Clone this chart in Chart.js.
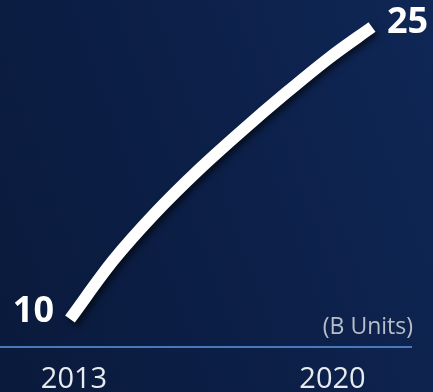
<!DOCTYPE html>
<html>
<head>
<meta charset="utf-8">
<script src="https://cdn.jsdelivr.net/npm/chart.js@4/dist/chart.umd.min.js"></script>
<style>
  html, body { margin: 0; padding: 0; }
  body {
    width: 433px; height: 392px; overflow: hidden;
    background: linear-gradient(250deg, #0f2756 0%, #0c1f47 50%, #0a1a3c 100%);
  }
  #wrap { position: relative; width: 433px; height: 392px; }
</style>
</head>
<body>
<div id="wrap"><canvas id="chart"></canvas></div>
<script>
// values (B units per year)
const years = [2013, 2014, 2015, 2016, 2017, 2018, 2019, 2020];
const units = [10, 13.0, 15.5, 17.7, 19.7, 21.6, 23.4, 25];
const tickYears = [2013, 2020];
const unitLabel = '(B Units)';

const FONT = "'Open Sans', 'Noto Sans', sans-serif";

// draws the soft shadow under the white line
const lineShadow = {
    id: 'lineShadow',
    beforeDatasetDraw(chart) {
        const ctx = chart.ctx;
        ctx.save();
        ctx.shadowColor = 'rgba(0,0,0,0.55)';
        ctx.shadowBlur = 6;
        ctx.shadowOffsetX = 3;
        ctx.shadowOffsetY = 4;
    },
    afterDatasetDraw(chart) {
        chart.ctx.restore();
    }
};

// first / last value next to the line ends, plus the unit note
const endLabels = {
    id: 'endLabels',
    afterDatasetsDraw(chart) {
        const ctx = chart.ctx;
        const pts = chart.getDatasetMeta(0).data;
        const first = pts[0], last = pts[pts.length - 1];
        ctx.save();
        ctx.fillStyle = '#ffffff';
        ctx.font = `bold 36px ${FONT}`;
        ctx.textBaseline = 'middle';
        ctx.textAlign = 'right';
        ctx.fillText(String(units[0]), first.x - 16, first.y - 7);
        ctx.textAlign = 'left';
        ctx.fillText(String(units[units.length - 1]), last.x + 15, last.y - 4);

        ctx.fillStyle = '#b9bfca';
        ctx.font = `23px ${FONT}`;
        ctx.textAlign = 'right';
        ctx.fillText(unitLabel, chart.chartArea.right + 2, 327);
        ctx.restore();
    }
};

new Chart(document.getElementById('chart'), {
    type: 'line',
    data: {
        datasets: [{
            data: years.map((y, i) => ({ x: y, y: units[i] })),
            borderColor: '#ffffff',
            borderWidth: 12,
            borderCapStyle: 'butt',
            pointRadius: 0,
            fill: false,
            cubicInterpolationMode: 'monotone',
            xAxisID: 'x',
            yAxisID: 'y'
        }]
    },
    options: {
        responsive: true,
        maintainAspectRatio: false,
        animation: false,
        layout: { padding: { left: 0, right: 22, top: 0, bottom: 0 } },
        plugins: { legend: { display: false }, tooltip: { enabled: false } },
        scales: {
            x: {
                type: 'linear', display: false,
                min: 2011.378, max: 2020.904
            },
            x2: {
                type: 'linear', position: 'bottom',
                min: 2010.996, max: 2022.125,
                afterBuildTicks: s => { s.ticks = tickYears.map(v => ({ value: v })); },
                afterFit: s => { s.height = 45; },
                grid: { display: false },
                border: { display: true, color: '#4a78b8', width: 2 },
                ticks: {
                    color: '#e8ebf0',
                    padding: 10,
                    maxRotation: 0,
                    autoSkip: false,
                    font: { family: FONT, size: 29, lineHeight: 1 },
                    callback: v => String(v)
                }
            },
            y: {
                display: false,
                min: 8.562, max: 26.387
            }
        }
    },
    plugins: [lineShadow, endLabels]
});
</script>
</body>
</html>
